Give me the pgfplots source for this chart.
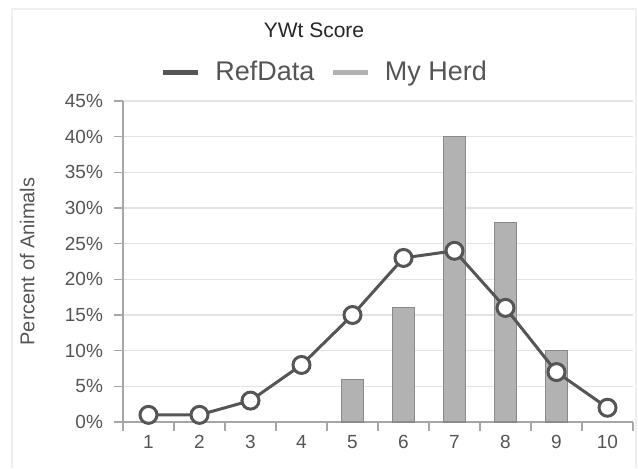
\documentclass[border=0pt]{standalone}
\usepackage{pgfplots}
\pgfplotsset{compat=1.18}
\usepackage{fontspec}
\setmainfont{Liberation Sans}
\definecolor{linec}{HTML}{555555}
\definecolor{barfill}{HTML}{B2B2B2}
\definecolor{baredge}{HTML}{8A8A8A}
\definecolor{axc}{HTML}{A6A6A6}
\definecolor{gridc}{HTML}{E3E3E3}
\definecolor{txt}{HTML}{555555}
\definecolor{framec}{HTML}{EFEFEF}
\begin{document}
\begin{tikzpicture}
\useasboundingbox (0,0) rectangle (319pt,234pt);
\draw[framec, line width=0.6pt] (6pt,0pt) -- (6pt,229.5pt) -- (318pt,229.5pt) -- (318pt,0pt);
\begin{axis}[
  at={(61.5pt,23pt)}, anchor=south west,
  scale only axis, width=255pt, height=160.5pt,
  xmin=0.5, xmax=10.5, ymin=0, ymax=45,
  clip=false,
  axis x line*=bottom, axis y line*=left,
  axis line style={draw=axc, line width=0.8pt},
  tick align=outside,
  major tick length=4.5pt, minor tick length=4.5pt,
  tick style={draw=axc, line width=0.8pt},
  xtick={0.5,1.5,...,10.5}, xticklabels={},
  extra x ticks={1,2,3,4,5,6,7,8,9,10},
  extra x tick style={major tick length=0pt, tick style={draw=none}, grid=none},
  extra x tick labels={1,2,3,4,5,6,7,8,9,10},
  ytick={0,5,...,45},
  yticklabel={\pgfmathprintnumber{\tick}\%},
  ymajorgrids, grid style={draw=gridc, line width=0.8pt},
  /pgf/number format/assume math mode=true,
  ticklabel style={font=\fontsize{9.5}{11}\selectfont, text=txt},
  xticklabel style={yshift=-3pt},
  yticklabel style={xshift=-2pt},
  ylabel={Percent of Animals},
  ylabel style={at={(axis description cs:-0.188,0.5)}, anchor=center, font=\fontsize{10}{12}\selectfont, text=txt},
  legend columns=2,
  reverse legend=true,
  legend style={at={(axis description cs:0.398,1.09)}, anchor=center, draw=none, fill=none,
    font=\fontsize{13.5}{15}\selectfont, text=txt,
    /tikz/every even column/.append style={column sep=6pt}},
]
\addplot[ybar, bar width=11pt, fill=barfill, draw=baredge, line width=0.6pt,
  legend image code/.code={\path[draw=none,fill=none] (0pt,0pt) -- (24pt,0pt); \draw[barfill, line width=2.5pt] (0pt,0pt) -- (17.5pt,0pt);}]
  coordinates {(5,6) (6,16) (7,40) (8,28) (9,10)};
\addlegendentry{My Herd}
\addplot[linec, line width=1.5pt, mark=*, mark size=4.25pt,
  mark options={fill=white, draw=linec, line width=1.5pt},
  legend image code/.code={\path[draw=none,fill=none] (0pt,0pt) -- (24pt,0pt); \draw[linec, line width=2.5pt] (0pt,0pt) -- (17.5pt,0pt);}]
  coordinates {(1,1) (2,1) (3,3) (4,8) (5,15) (6,23) (7,24) (8,16) (9,7) (10,2)};
\addlegendentry{RefData}
\end{axis}
\node[font=\fontsize{10.5}{12}\selectfont, text=black!85] at (157pt,219pt) {YWt Score};
\end{tikzpicture}
\end{document}
